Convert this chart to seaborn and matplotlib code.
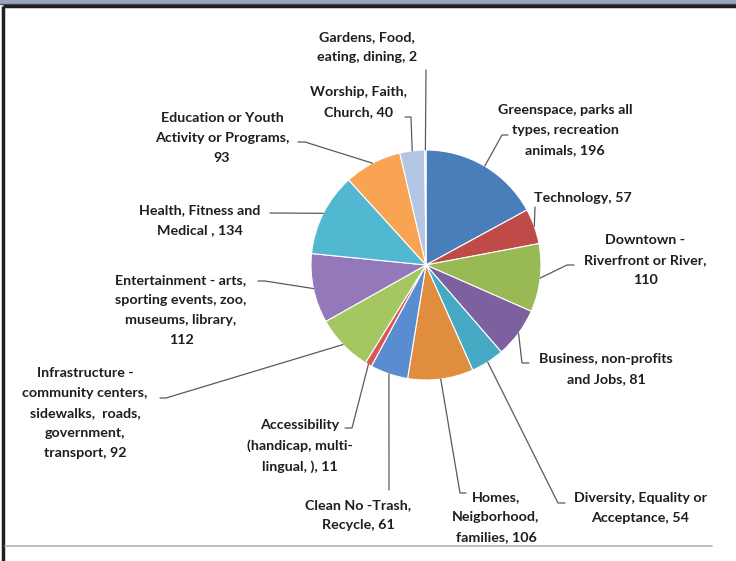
import numpy as np
import seaborn as sns
import matplotlib.pyplot as plt

# Dados do gráfico (sentido horário a partir do topo)
categorias = [
    "Greenspace, parks all\ntypes, recreation\nanimals",
    "Technology",
    "Downtown -\nRiverfront or River,\n",
    "Business, non-profits\nand Jobs",
    "Diversity, Equality or\nAcceptance",
    "Homes,\nNeigborhood,\nfamilies",
    "Clean No -Trash,\nRecycle",
    "Accessibility\n(handicap, multi-\nlingual, )",
    "Infrastructure -\ncommunity centers,\nsidewalks,  roads,\ngovernment,\ntransport",
    "Entertainment - arts,\nsporting events, zoo,\nmuseums, library,\n",
    "Health, Fitness and\nMedical ",
    "Education or Youth\nActivity or Programs,\n",
    "Worship, Faith,\nChurch",
    "Gardens, Food,\neating, dining",
]
valores = [196, 57, 110, 81, 54, 106, 61, 11, 92, 112, 134, 93, 40, 2]

cores = ['#4A7EBB', '#BE4B48', '#98B954', '#7D60A0', '#46AAC5', '#E08D3E',
         '#5A8DD0', '#D9574F', '#A5C762', '#9479BA', '#52B7D1', '#F9A452',
         '#B3C6E3', '#D99694']

# Layout (pixels): centro do texto e cotovelos das linhas de chamada
centro_pizza = (426, 265)
raio_pizza = 115
pos_texto = [(565, 130), (583, 198), (645, 260), (606, 369), (640, 508),
             (496, 517), (358, 515), (300, 446), (85, 413), (181, 310),
             (200, 220), (222, 138), (358, 102), (367, 47)]
cotovelos = [
    [(508, 135), (502, 135)],
    [(535, 207)],
    [(574, 265), (567, 265)],
    [(529, 363), (522, 363)],
    [(565, 503), (558, 503)],
    [(466, 493), (460, 493)],
    [(389, 490)],
    [(345, 428), (352, 428)],
    [(160, 398), (166, 398)],
    [(258, 281), (265, 281)],
    [(270, 213)],
    [(298, 142), (305, 142)],
    [(405, 117), (411, 117)],
    [(426, 70)],
]

sns.set_theme(style="white")
plt.rcParams['font.family'] = ['Lato', 'DejaVu Sans']

fig = plt.figure(figsize=(7.36, 5.61), dpi=100)
ax = fig.add_axes([0, 0, 1, 1])

# y invertido -> counterclock em dados aparece horário na tela
wedges, _ = ax.pie(valores, colors=cores, center=centro_pizza, radius=raio_pizza,
                   startangle=-90, counterclock=True, frame=True,
                   wedgeprops=dict(edgecolor='white', linewidth=0.8))
ax.set_xlim(0, 736)
ax.set_ylim(561, 0)
ax.set_aspect('equal')
ax.axis('off')

for w, nome, v, (tx, ty), pts in zip(wedges, categorias, valores, pos_texto, cotovelos):
    meio = np.deg2rad((w.theta1 + w.theta2) / 2)
    px = centro_pizza[0] + raio_pizza * np.cos(meio)
    py = centro_pizza[1] + raio_pizza * np.sin(meio)
    xs = [p[0] for p in pts] + [px]
    ys = [p[1] for p in pts] + [py]
    ax.plot(xs, ys, color='#5a5a5a', linewidth=0.9, solid_joinstyle='miter')
    rotulo = f"{nome}{v}" if nome.endswith("\n") else f"{nome}, {v}"
    ax.text(tx, ty, rotulo, ha='center', va='center', multialignment='center',
            fontsize=10.3, fontweight='bold', color='#1e1e1e', linespacing=1.78)

# Moldura da captura de tela
ax.axhspan(0, 4, color='#9aa6b6', lw=0)
ax.plot([0, 736], [3.5, 3.5], color='#3a5a8a', lw=1)
ax.plot([3, 736], [6, 6], color='#231f20', lw=2.5, solid_capstyle='butt')
ax.plot([3.3, 3.3], [6, 561], color='#231f20', lw=2.5, solid_capstyle='butt')
ax.plot([5, 712], [546, 546], color='#b4b4b4', lw=1.2)

plt.savefig('out.png', dpi=100)
